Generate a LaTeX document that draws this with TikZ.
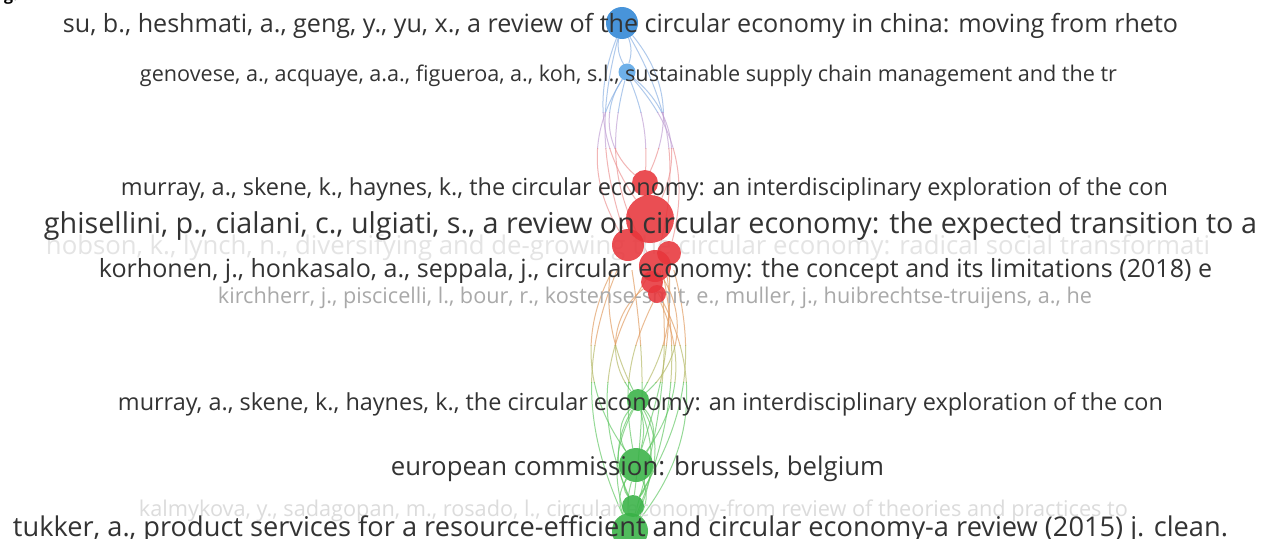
\documentclass[tikz,border=0pt]{standalone}
\usepackage{fontspec}
\setmainfont{Open Sans}
\usepackage{graphicx}
\pgfdeclarelayer{paper}
\pgfdeclarelayer{edges}
\pgfdeclarelayer{faint}
\pgfdeclarelayer{front}
\pgfsetlayers{paper,edges,faint,main,front}
\definecolor{bluec}{HTML}{2F86D6}
\definecolor{lbluec}{HTML}{5AA6E6}
\definecolor{redc}{HTML}{E8363C}
\definecolor{greenc}{HTML}{38B246}
\definecolor{eblue}{HTML}{86AEE2}
\definecolor{epurp}{HTML}{BE9CD2}
\definecolor{epink}{HTML}{EC8E8E}
\definecolor{eorange}{HTML}{E0985A}
\definecolor{eolive}{HTML}{B2B660}
\definecolor{egreen}{HTML}{5CC65E}
\definecolor{txt}{HTML}{333333}
\definecolor{faintA}{HTML}{E4E4E4}
\definecolor{faintB}{HTML}{A9A9A9}
\definecolor{faintC}{HTML}{DCDCDC}
\newcommand{\lab}[7]{\node[anchor=mid, text=#6, font=\fontsize{#5}{#5}\selectfont, inner sep=0pt] (#1) at (#2,#3) {\resizebox{#4pt}{!}{#7}};}
\newcommand{\BRset}[1]{%
 \draw[ed,#1] (b1) to[bend left=18] (b2);
 \draw[ed,#1] (b1) to[bend right=18] (b2);
 \draw[ed,#1] (b1) to[bend left=32] (r1);
 \draw[ed,#1] (b1) to[bend right=28] (r2);
 \draw[ed,#1] (b1) to[bend left=22] (r5);
 \draw[ed,#1] (b1) to[bend right=16] (r3);
 \draw[ed,#1] (b2) to[bend right=42] (r1);
 \draw[ed,#1] (b2) to[bend left=38] (r2);
 \draw[ed,#1] (b2) to[bend right=32] (r3);
 \draw[ed,#1] (b2) to[bend left=28] (r4);
 \draw[ed,#1] (b2) to[bend right=22] (r5);
 \draw[ed,#1] (b2) to[bend left=12] (r1);
}
\newcommand{\RGset}[1]{%
 \draw[ed,#1] (r1) to[bend right=28] (g1);
 \draw[ed,#1] (r2) to[bend left=24] (g1);
 \draw[ed,#1] (r3) to[bend right=34] (g2);
 \draw[ed,#1] (r5) to[bend left=40] (g1);
 \draw[ed,#1] (r6) to[bend right=45] (g1);
 \draw[ed,#1] (r7) to[bend left=30] (g2);
 \draw[ed,#1] (r4) to[bend left=24] (g3);
 \draw[ed,#1] (r3) to[bend right=24] (g4);
 \draw[ed,#1] (r2) to[bend left=18] (g4);
 \draw[ed,#1] (r5) to[bend right=28] (g3);
 \draw[ed,#1] (r6) to[bend left=34] (g4);
 \draw[ed,#1] (r7) to[bend right=18] (g2);
 \draw[ed,#1] (r1) to[bend left=14] (g4);
 \draw[ed,#1] (r4) to[bend left=10] (g2);
 \draw[ed,#1] (r3) to[bend left=8] (g3);
}
\begin{document}
\begin{tikzpicture}[x=1pt,y=-1pt,
  ed/.style={line width=1pt, draw opacity=0.65},
  dot/.style={circle, draw=none, inner sep=0pt, fill opacity=0.88}]
\useasboundingbox (0,0) rectangle (1271,538);
\begin{pgfonlayer}{paper}
\fill[white] (0,0) rectangle (1271,538);
\end{pgfonlayer}
% cut-off fragment at the top left
\node[anchor=base west, inner sep=0pt, font=\fontsize{16}{16}\selectfont\bfseries] (frag) at (4,1) {g.};
% nodes
\node[dot, fill=bluec, minimum size=32pt] (b1) at (622,23) {};
\node[dot, fill=lbluec, minimum size=17pt] (b2) at (627,72) {};
\node[dot, fill=redc, minimum size=26pt] (r1) at (645,183) {};
\node[dot, fill=redc, minimum size=32pt] (r3) at (628,245) {};
\node[dot, fill=redc, minimum size=24pt] (r4) at (669,253) {};
\node[dot, fill=redc, minimum size=32pt] (r5) at (655,266) {};
\node[dot, fill=redc, minimum size=22pt] (r6) at (652,282) {};
\node[dot, fill=redc, minimum size=18pt] (r7) at (657,294) {};
\node[dot, fill=redc, minimum size=48pt] (r2) at (650,219) {};
\node[dot, fill=greenc, minimum size=22pt] (g1) at (638,400) {};
\node[dot, fill=greenc, minimum size=34pt] (g2) at (636,465) {};
\node[dot, fill=greenc, minimum size=22pt] (g3) at (633,506) {};
\node[dot, fill=greenc, minimum size=36pt] (g4) at (630,531) {};
% edges
\begin{pgfonlayer}{edges}
 \begin{scope}\clip (0,0) rectangle (1271,112); \BRset{eblue} \end{scope}
 \begin{scope}\clip (0,112) rectangle (1271,148); \BRset{epurp} \end{scope}
 \begin{scope}\clip (0,148) rectangle (1271,300); \BRset{epink} \end{scope}
 \begin{scope}\clip (0,270) rectangle (1271,345); \RGset{eorange} \end{scope}
 \begin{scope}\clip (0,345) rectangle (1271,382); \RGset{eolive} \end{scope}
 \begin{scope}\clip (0,382) rectangle (1271,538); \RGset{egreen} \end{scope}
 \draw[ed,egreen] (g1) to[bend left=38] (g2);
 \draw[ed,egreen] (g1) to[bend right=38] (g2);
 \draw[ed,egreen] (g1) to[bend left=15] (g2);
 \draw[ed,egreen] (g2) to[bend left=32] (g3);
 \draw[ed,egreen] (g2) to[bend right=32] (g3);
 \draw[ed,egreen] (g3) to[bend left=22] (g4);
 \draw[ed,egreen] (g3) to[bend right=22] (g4);
 \draw[ed,egreen] (g1) to[bend left=32] (g3);
 \draw[ed,egreen] (g1) to[bend right=28] (g3);
 \draw[ed,egreen] (g1) to[bend left=22] (g4);
 \draw[ed,egreen] (g1) to[bend right=22] (g4);
 \draw[ed,egreen] (g2) to[bend left=28] (g4);
 \draw[ed,egreen] (g2) to[bend right=28] (g4);
 \draw[ed,egreen] (g2) to[bend right=10] (g4);
\end{pgfonlayer}
% faint labels (behind the nodes)
\begin{pgfonlayer}{faint}
 \lab{l5}{628}{252}{1164}{21}{faintA}{hobson, k., lynch, n., diversifying and de-growing the circular economy: radical social transformati}
 \lab{l7}{655}{301}{874}{17}{faintB}{kirchherr, j., piscicelli, l., bour, r., kostense-smit, e., muller, j., huibrechtse-truijens, a., he}
 \lab{l10}{633.5}{514}{989}{18}{faintC}{kalmykova, y., sadagopan, m., rosado, l., circular economy-from review of theories and practices to}
\end{pgfonlayer}
% labels in front
\begin{pgfonlayer}{front}
 \lab{l1}{620.5}{30}{1115}{21}{txt}{su, b., heshmati, a., geng, y., yu, x., a review of the circular economy in china: moving from rheto}
 \lab{l2}{628.5}{79}{977}{18}{txt}{genovese, a., acquaye, a.a., figueroa, a., koh, s.l., sustainable supply chain management and the tr}
 \lab{l3}{644.5}{193}{1047}{19.5}{txt}{murray, a., skene, k., haynes, k., the circular economy: an interdisciplinary exploration of the con}
 \lab{l4}{650.5}{231}{1213}{23}{txt}{ghisellini, p., cialani, c., ulgiati, s., a review on circular economy: the expected transition to a}
 \lab{l6}{655.5}{275}{1113}{21}{txt}{korhonen, j., honkasalo, a., seppala, j., circular economy: the concept and its limitations (2018) e}
 \lab{l8}{640.5}{408}{1045}{19.5}{txt}{murray, a., skene, k., haynes, k., the circular economy: an interdisciplinary exploration of the con}
 \lab{l9}{637.5}{473}{493}{22}{txt}{european commission: brussels, belgium}
 \lab{l11}{620.5}{534}{1215}{23}{txt}{tukker, a., product services for a resource-efficient and circular economy-a review (2015) j. clean.}
\end{pgfonlayer}
\end{tikzpicture}
\end{document}
